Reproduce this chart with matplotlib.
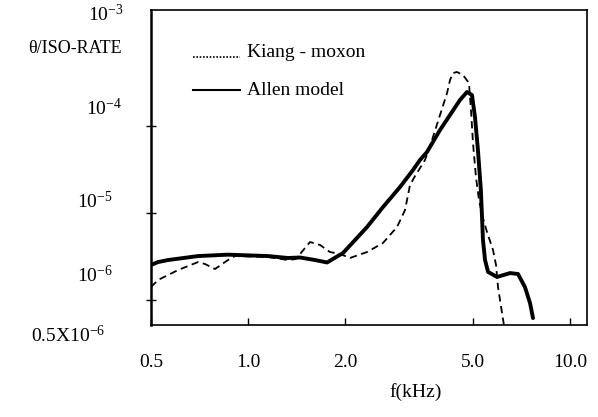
import numpy as np
import matplotlib
matplotlib.use("Agg")
import matplotlib.pyplot as plt

plt.rcParams['font.family'] = ['Liberation Serif', 'DejaVu Serif']
plt.rcParams['mathtext.fontset'] = 'custom'
plt.rcParams['mathtext.rm'] = 'Liberation Serif'
plt.rcParams['mathtext.it'] = 'Liberation Serif:italic'

# Allen model (solid) - frequency in kHz, theta/iso-rate
allen_f = [0.500, 0.526, 0.565, 0.700, 0.867, 1.154, 1.332, 1.451, 1.616, 1.761,
           1.974, 2.344, 2.627, 2.967, 3.256, 3.423, 3.599, 3.950, 4.556, 4.790,
           4.964, 5.072, 5.18, 5.29, 5.33, 5.37, 5.45, 5.57, 5.94, 6.52,
           6.90, 7.25, 7.52, 7.68]
allen_v = [2.53, 2.73, 2.88, 3.20, 3.32, 3.20, 3.04, 3.08, 2.88, 2.70,
           3.47, 6.9, 11.7, 19.9, 31.2, 40.7, 50.3, 90.0, 199.0, 246.0,
           227.0, 127.0, 53.0, 18.4, 9.5, 4.9, 2.88, 2.10, 1.84, 2.04,
           1.99, 1.41, 0.92, 0.62]

# Kiang - moxon (dashed)
kiang_f = [0.500, 0.526, 0.607, 0.700, 0.736, 0.790, 0.867, 0.912, 1.154, 1.332,
           1.410, 1.504, 1.559, 1.675, 1.798, 1.932, 2.075, 2.344, 2.627, 2.904,
           3.075, 3.187, 3.303, 3.548, 3.730, 3.950, 4.153, 4.243, 4.335, 4.460,
           4.655, 4.859, 4.929, 5.000, 5.108, 5.22, 5.37, 5.527, 5.77, 5.895,
           5.98, 6.154, 6.245]
kiang_v = [1.41, 1.70, 2.21, 2.73, 2.59, 2.27, 2.88, 3.20, 3.12, 2.88,
           2.96, 3.96, 4.64, 4.29, 3.56, 3.38, 3.04, 3.56, 4.52, 6.9,
           10.8, 21.0, 26.6, 40.7, 69.0, 133.8, 239.0, 338.0, 406.0, 418.0,
           385.0, 312.0, 153.0, 63.8, 25.9, 14.1, 8.76, 6.05, 3.76, 2.53,
           1.41, 0.709, 0.503]

x_ticks = [0.5, 1.0, 2.0, 5.0, 10.0]
x_tick_labels = ['0.5', '1.0', '2.0', '5.0', '10.0']
y_label_texts = [r'$\mathregular{10^{-3}}$', r'$\mathregular{10^{-4}}$',
                 r'$\mathregular{10^{-5}}$', r'$\mathregular{10^{-6}}$',
                 r'$\mathregular{0.5X10^{-6}}$']

fig = plt.figure(figsize=(5.98, 4.17), dpi=100)
ax = fig.add_axes([151 / 598, 1 - 325 / 417, 436 / 598, 315 / 417])

ax.plot(kiang_f, np.array(kiang_v) * 1e-6, color='black', lw=1.3,
        dashes=(4, 2.5))
ax.plot(allen_f, np.array(allen_v) * 1e-6, color='black', lw=2.8,
        solid_joinstyle='round', solid_capstyle='round')

ax.set_xscale('log')
ax.set_yscale('log')
ax.set_xlim(0.5, 11.3)
ax.set_ylim(5.16e-7, 2.155e-3)
ax.minorticks_off()

ax.set_xticks(x_ticks)
ax.set_xticklabels(x_tick_labels, fontsize=14)
ax.tick_params(axis='x', direction='in', length=5, width=1, pad=21)
ax.set_yticks([1e-4, 1e-5, 1e-6])
ax.set_yticklabels([])
ax.tick_params(axis='y', direction='inout', length=7, width=1)

for side in ['top', 'right', 'bottom']:
    ax.spines[side].set_linewidth(1.2)
ax.spines['left'].set_linewidth(1.8)

# y axis labels placed as in the original scan
label_y_px = [21, 115, 208, 282, 342]
label_right_px = [124, 122, 113, 113, 105]
for txt, py, px in zip(y_label_texts, label_y_px, label_right_px):
    ax.text((px - 151) / 436, (325 - py) / 315, txt, transform=ax.transAxes,
            ha='right', va='baseline', fontsize=14)
ax.text((122 - 151) / 436, (325 - 53) / 315, 'θ/ISO-RATE', transform=ax.transAxes,
        ha='right', va='baseline', fontsize=13)

ax.set_xlabel('f(kHz)', fontsize=14)
ax.xaxis.set_label_coords(0.608, -0.184)

# legend drawn by hand
ax.plot([0.096, 0.204], [(325 - 57) / 315] * 2, transform=ax.transAxes,
        color='black', lw=1.2, linestyle=(0, (1, 1)))
ax.text(0.22, (325 - 57) / 315, 'Kiang - moxon', transform=ax.transAxes,
        va='baseline', fontsize=14)
ax.plot([0.096, 0.204], [(325 - 90) / 315] * 2, transform=ax.transAxes,
        color='black', lw=1.5)
ax.text(0.22, (325 - 95) / 315, 'Allen model', transform=ax.transAxes,
        va='baseline', fontsize=14)

fig.savefig('out.png', dpi=100)
